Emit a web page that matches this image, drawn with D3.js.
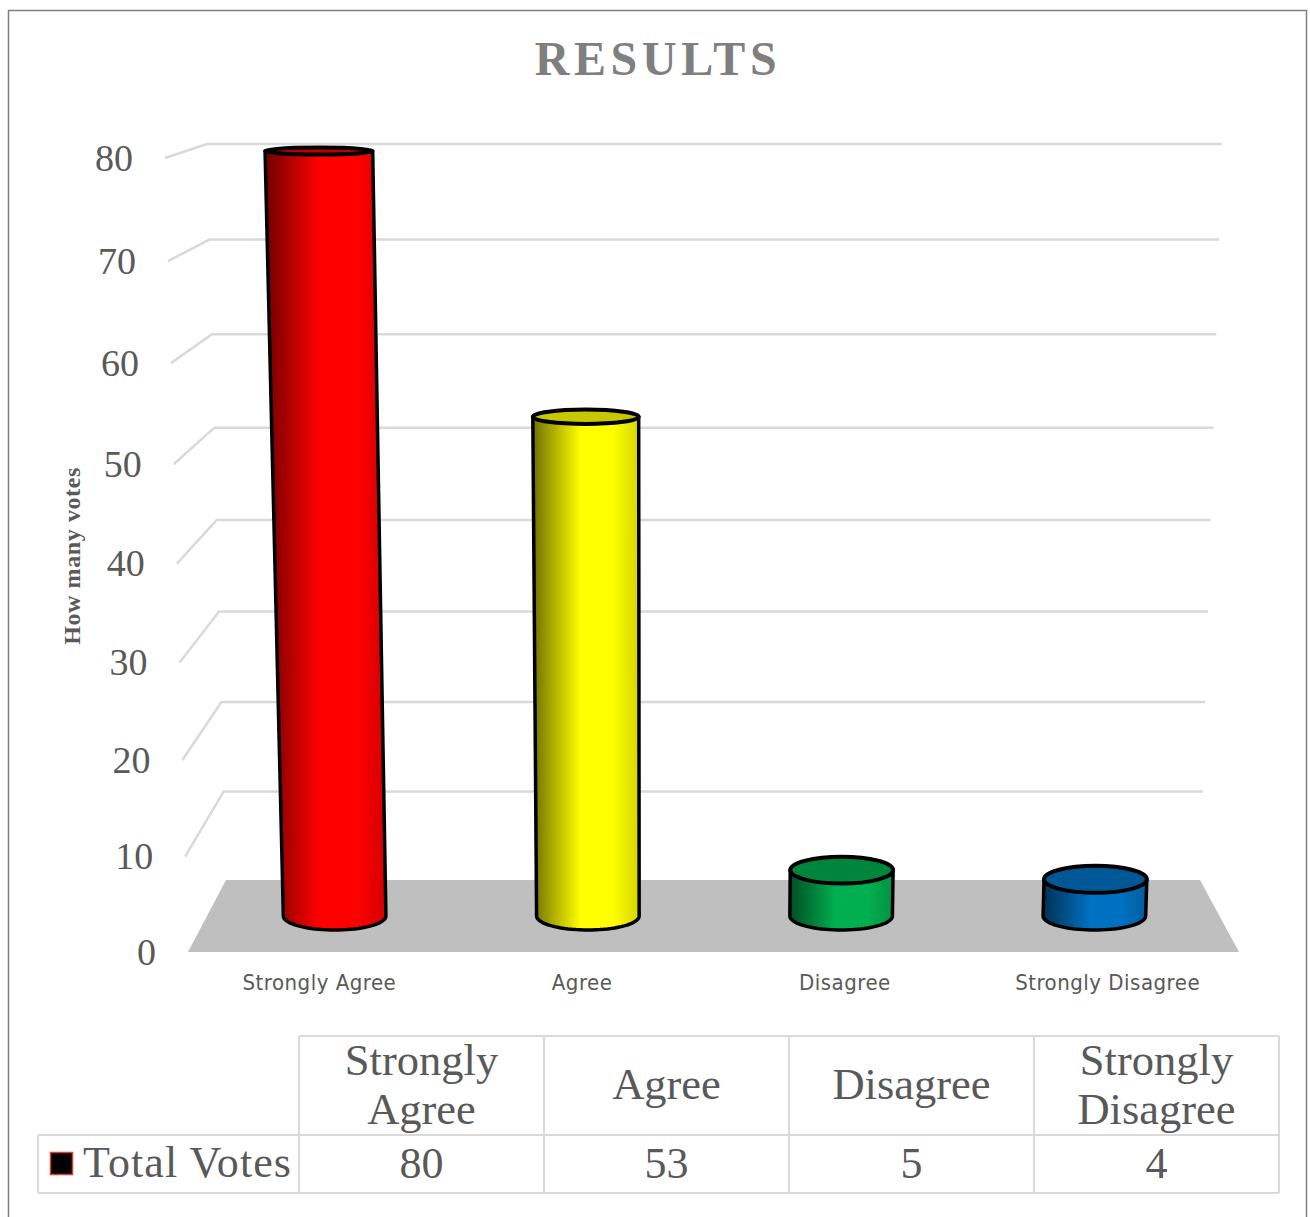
<!DOCTYPE html>
<html>
<head>
<meta charset="utf-8">
<title>Results</title>
<script src="https://cdn.jsdelivr.net/npm/d3@7"></script>
<style>
    html, body { margin: 0; background: #fff; }
    svg { display: block; }
    .serif { font-family: "Liberation Serif", serif; fill: #595959; }
</style>
</head>
<body>
<svg id="chart" width="1310" height="1217"></svg>
<script>
const categories = ['Strongly Agree', 'Agree', 'Disagree', 'Strongly Disagree'];
const tableHeaders = [['Strongly', 'Agree'], ['Agree'], ['Disagree'], ['Strongly', 'Disagree']];
const totalVotes = [80, 53, 5, 4];
const yTicks = [0, 10, 20, 30, 40, 50, 60, 70, 80];
const sideColours = ['#ff0000', '#ffff00', '#00b050', '#0070c0'];
const capColours = ['#c00000', '#c8c800', '#00863c', '#005796'];

const svg = d3.select('#chart');
const defs = svg.append('defs');

// Chart is drawn in perspective, so a value goes through this before the pixel scales
const maxValue = 80;
const t = v => (v / maxValue) / (1 + 0.045 * (1 - v / maxValue));

const yBack = d3.scaleLinear().domain([0, 1]).range([880, 144]);
const yFront = d3.scaleLinear().domain([0, 1]).range([952, 158]);
const yMid = d3.scaleLinear().domain([0, 1]).range([916, 151]);

const xBackLeft = d3.scaleLinear().domain([0, 1]).range([226, 207]);
const xBackRight = d3.scaleLinear().domain([0, 1]).range([1200, 1222]);
const xFrontLeft = d3.scaleLinear().domain([0, 1]).range([188, 165]);
const xMidLeft = d3.scaleLinear().domain([0, 1]).range([208, 186]);
const xMidRight = d3.scaleLinear().domain([0, 1]).range([1221, 1249]);
const capRy = d3.scaleLinear().domain([0, 1]).range([14, 3.5]);

// Band scale of the bars at the height of a given value
function bandsAt(v) {
    return d3.scaleBand()
        .domain(categories)
        .range([xMidLeft(t(v)), xMidRight(t(v))])
        .paddingInner(0.595)
        .paddingOuter(0.2975);
}

// Outer frame
svg.append('rect')
    .attr('x', 8.5).attr('y', 10.5)
    .attr('width', 1298).attr('height', 1240)
    .attr('fill', 'none').attr('stroke', '#7f7f7f').attr('stroke-width', 1.5);

// Title
svg.append('text')
    .attr('class', 'serif')
    .attr('x', 658).attr('y', 75)
    .attr('text-anchor', 'middle')
    .style('fill', '#7f7f7f')
    .style('font-size', '48px').style('font-weight', 'bold').style('letter-spacing', '4.6px')
    .text('RESULTS');

// Y axis title
svg.append('text')
    .attr('class', 'serif')
    .attr('transform', 'translate(80,556) rotate(-90)')
    .attr('text-anchor', 'middle')
    .style('font-size', '24px').style('font-weight', 'bold').style('letter-spacing', '0.6px')
    .text('How many votes');

// Gridlines on the back wall and the side wall
const grid = svg.append('g').attr('fill', 'none').attr('stroke', '#d9d9d9').attr('stroke-width', 2.5);
yTicks.filter(d => d > 0).forEach(d => {
    const line = d3.line();
    grid.append('path').attr('d', line([
        [xFrontLeft(t(d)), yFront(t(d))],
        [xBackLeft(t(d)), yBack(t(d))],
        [xBackRight(t(d)), yBack(t(d))]
    ]));
});

// Floor
svg.append('path')
    .attr('fill', '#bfbfbf')
    .attr('d', d3.line()([
        [xBackLeft(0), yBack(0)],
        [xBackRight(0), yBack(0)],
        [1239, yFront(0)],
        [xFrontLeft(0), yFront(0)]
    ]) + 'Z');

// Y tick labels
svg.append('g').selectAll('text')
    .data(yTicks)
    .join('text')
    .attr('class', 'serif')
    .attr('x', d => xFrontLeft(t(d)) - 32)
    .attr('y', d => yFront(t(d)))
    .attr('dy', '0.33em')
    .attr('text-anchor', 'end')
    .style('font-size', '38px')
    .text(d => d);

// Category labels
const xFront = d3.scaleBand().domain(categories).range([188, 1239]);
svg.append('g').selectAll('text')
    .data(categories)
    .join('text')
    .attr('x', d => xFront(d) + xFront.bandwidth() / 2)
    .attr('y', 990)
    .attr('text-anchor', 'middle')
    .style('font-family', '"DejaVu Sans Condensed", "DejaVu Sans", sans-serif')
    .style('font-size', '22px')
    .style('letter-spacing', '0.5px')
    .style('fill', '#595959')
    .text(d => d);

// Horizontal shading of each cylinder
sideColours.forEach((c, i) => {
    const shade = d3.color(c);
    const grad = defs.append('linearGradient').attr('id', `side-${i}`);
    const stops = [[0, shade.darker(2.3)], [0.45, shade], [0.75, shade], [1, shade.darker(0.5)]];
    stops.forEach(s => grad.append('stop').attr('offset', s[0]).attr('stop-color', s[1].formatHex()));
});

// Cylinders
const bars = svg.append('g').attr('stroke', '#000');
categories.forEach((cat, i) => {
    const v = totalVotes[i];
    const top = bandsAt(v);
    const base = bandsAt(0);
    const topL = top(cat);
    const topR = topL + top.bandwidth();
    const baseL = base(cat);
    const baseR = baseL + base.bandwidth();
    const yTop = yMid(t(v));
    const yBase = yMid(0);
    const rTop = capRy(t(v));
    const rBase = capRy(0);

    const side = d3.path();
    side.moveTo(topL, yTop);
    side.lineTo(baseL, yBase);
    // front half of the base ellipse
    const steps = d3.range(0, 41).map(k => Math.PI * k / 40);
    steps.forEach(a => side.lineTo(
        (baseL + baseR) / 2 - Math.cos(a) * (baseR - baseL) / 2,
        yBase + Math.sin(a) * rBase));
    side.lineTo(topR, yTop);
    side.closePath();

    bars.append('path')
        .attr('d', side.toString())
        .attr('fill', `url(#side-${i})`)
        .attr('stroke-width', 3.5)
        .attr('stroke-linejoin', 'round');

    bars.append('ellipse')
        .attr('cx', (topL + topR) / 2)
        .attr('cy', yTop)
        .attr('rx', (topR - topL) / 2)
        .attr('ry', rTop)
        .attr('fill', capColours[i])
        .attr('stroke-width', 4);
});

// Data table
const colX = d3.scaleBand().domain(categories).range([299, 1279]);
const rowTop = 1036, rowMid = 1135, rowBottom = 1193, tableLeft = 38;
const table = svg.append('g');
const tableLine = (x1, y1, x2, y2) => table.append('line')
    .attr('x1', x1).attr('y1', y1).attr('x2', x2).attr('y2', y2)
    .attr('stroke', '#d9d9d9').attr('stroke-width', 2);
tableLine(299, rowTop, 1279, rowTop);
tableLine(tableLeft, rowMid, 1279, rowMid);
tableLine(tableLeft, rowBottom, 1279, rowBottom);
tableLine(tableLeft, rowMid, tableLeft, rowBottom);
colX.domain().forEach(c => tableLine(colX(c), rowTop, colX(c), rowBottom));
tableLine(1279, rowTop, 1279, rowBottom);

categories.forEach((cat, i) => {
    const cx = colX(cat) + colX.bandwidth() / 2;
    const lines = tableHeaders[i];
    lines.forEach((txt, k) => {
        table.append('text')
            .attr('class', 'serif')
            .attr('x', cx)
            .attr('y', lines.length === 1 ? 1099 : 1075 + k * 49)
            .attr('text-anchor', 'middle')
            .style('font-size', '44.5px')
            .text(txt);
    });
    table.append('text')
        .attr('class', 'serif')
        .attr('x', cx)
        .attr('y', 1178)
        .attr('text-anchor', 'middle')
        .style('font-size', '44px')
        .text(totalVotes[i]);
});

// Legend key and row label
table.append('rect')
    .attr('x', 50.5).attr('y', 1152.5).attr('width', 22).attr('height', 22)
    .attr('fill', '#000').attr('stroke', '#d8402a').attr('stroke-width', 1.5);
table.append('text')
    .attr('class', 'serif')
    .attr('x', 83).attr('y', 1177)
    .style('font-size', '44px')
    .style('letter-spacing', '1.1px')
    .text('Total Votes');
</script>
</body>
</html>
